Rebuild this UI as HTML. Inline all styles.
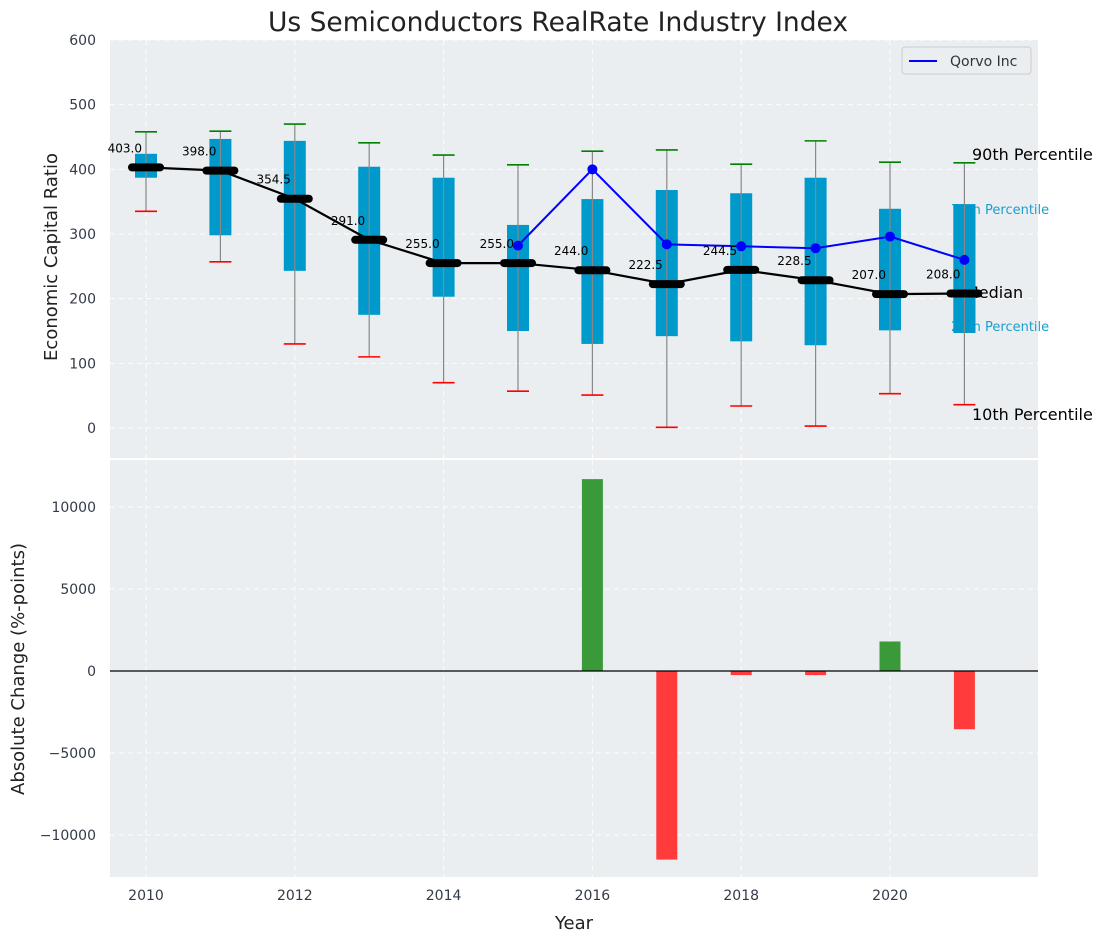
<!DOCTYPE html>
<html><head><meta charset="utf-8"><style>
body{margin:0;background:#fff;font-family:"Liberation Sans","DejaVu Sans",sans-serif}
</style></head><body>
<svg id="c" width="1107" height="942" xmlns="http://www.w3.org/2000/svg" font-family="DejaVu Sans, Liberation Sans, sans-serif"></svg>
<script>
const years=[2010,2011,2012,2013,2014,2015,2016,2017,2018,2019,2020,2021];
const p10=[335,257,130,110,70,57,51,1,34,3,53,36];
const p25=[387,298,243,175,203,150,130,142,134,128,151,147];
const median=[403,398,354.5,291,255,255,244,222.5,244.5,228.5,207,208];
const p75=[424,447,444,404,387,314,354,368,363,387,339,346];
const p90=[458,459,470,441,422,407,428,430,408,444,411,410];
const qorvoYears=[2015,2016,2017,2018,2019,2020,2021];
const qorvo=[282,400,284,281,278,296,260];
const changeYears=[2016,2017,2018,2019,2020,2021];
const changes=[11700,-11500,-250,-250,1800,-3550];
const yTicksTop=[0,100,200,300,400,500,600];
const yTicksBot=[-10000,-5000,0,5000,10000];
const xTicks=[2010,2012,2014,2016,2018,2020];

const svg=document.getElementById('c');const NS='http://www.w3.org/2000/svg';
function el(t,a,txt,parent){const e=document.createElementNS(NS,t);for(const k in a)e.setAttribute(k,a[k]);if(txt!==undefined)e.textContent=txt;(parent||svg).appendChild(e);return e;}
const X=v=>146+(v-2010)*74.4;
const Y1=v=>428-v*0.6467;
const Y2=v=>671-v*0.0164;
let e;
e=el('rect',{x:110,y:40,width:928,height:418,fill:'#eaeef0'});


e=el('rect',{x:110,y:460,width:928,height:417,fill:'#eaeef0'});


const grid=el('g',{stroke:'#fff','stroke-dasharray':'5,4','stroke-width':1,opacity:0.9});


xTicks.forEach(t=>{el('line',{x1:X(t),x2:X(t),y1:40,y2:458},undefined,grid);el('line',{x1:X(t),x2:X(t),y1:460,y2:877},undefined,grid);});
yTicksTop.forEach(t=>el('line',{x1:110,x2:1038,y1:Y1(t),y2:Y1(t)},undefined,grid));
yTicksBot.forEach(t=>el('line',{x1:110,x2:1038,y1:Y2(t),y2:Y2(t)},undefined,grid));
yTicksTop.forEach(t=>{e=el('text',{x:96,y:Y1(t)+5,'text-anchor':'end','font-size':14,fill:'#333a48'},String(t));

});
yTicksBot.forEach(t=>{e=el('text',{x:96,y:Y2(t)+5,'text-anchor':'end','font-size':14,fill:'#333a48'},t<0?'−'+(-t):String(t));

});
xTicks.forEach(t=>{e=el('text',{x:X(t),y:900,'text-anchor':'middle','font-size':14,fill:'#333a48'},String(t));

});
years.forEach((y,i)=>{const x=X(y);
 e=el('rect',{x:x-11,y:Y1(p75[i]),width:22,height:Y1(p25[i])-Y1(p75[i]),fill:'#0099cc'});
 
 
 e=el('line',{x1:x,x2:x,y1:Y1(p90[i]),y2:Y1(p10[i]),stroke:'#888',"stroke-width":1.2});
 
 
 e=el('line',{x1:x-11,x2:x+11,y1:Y1(p90[i]),y2:Y1(p90[i]),stroke:'green',"stroke-width":1.6});
 
 
 e=el('line',{x1:x-11,x2:x+11,y1:Y1(p10[i]),y2:Y1(p10[i]),stroke:'red',"stroke-width":1.6});
 
 
});
// right labels (drawn under final box)
[['90th Percentile',972,160,16,'#000'],['75th Percentile',951,214,13,'#1a9fd0'],['Median',965,298,16,'#000'],['25th Percentile',951,331,13,'#1a9fd0'],['10th Percentile',972,420,16,'#000']].forEach(l=>{
 e=el('text',{x:l[1],y:l[2],'font-size':l[3],fill:l[4]},l[0]);
 
 
});
const lx=X(2021);
e=el('rect',{x:lx-11,y:Y1(p75[11]),width:22,height:Y1(p25[11])-Y1(p75[11]),fill:'#0099cc'});


e=el('line',{x1:lx,x2:lx,y1:Y1(p75[11]),y2:Y1(p25[11]),stroke:'#888','stroke-width':1.2});


e=el('polyline',{points:years.map((y,i)=>X(y)+','+Y1(median[i])).join(' '),fill:'none',stroke:'#000','stroke-width':2.2});


years.forEach((y,i)=>{const x=X(y);
 e=el('line',{x1:x-14,x2:x+14,y1:Y1(median[i]),y2:Y1(median[i]),stroke:'#000','stroke-width':8,'stroke-linecap':'round'});
 
 
});
e=el('polyline',{points:qorvoYears.map((y,i)=>X(y)+','+Y1(qorvo[i])).join(' '),fill:'none',stroke:'blue','stroke-width':2});


qorvoYears.forEach((y,i)=>{e=el('circle',{cx:X(y),cy:Y1(qorvo[i]),r:5,fill:'blue'});

});
years.forEach((y,i)=>{const x=X(y);
 e=el('text',{x:x-4,y:Y1(median[i])-15,'text-anchor':'end','font-size':12,fill:'#000'},median[i].toFixed(1));
 
 
});
changeYears.forEach((y,i)=>{const v=changes[i];
 e=el('rect',{x:X(y)-10.5,y:Math.min(Y2(v),Y2(0)),width:21,height:Math.abs(Y2(v)-Y2(0)),fill:v>=0?'#3a9a3a':'#ff3b3b'});
 
 
});
e=el('line',{x1:110,x2:1038,y1:Y2(0),y2:Y2(0),stroke:'#000','stroke-width':1.2});


const lg=el('g',{});


el('rect',{x:902,y:47,width:129,height:27,rx:3,fill:'#eaeef0',stroke:'#ccc'},undefined,lg);
el('line',{x1:909,x2:937,y1:61,y2:61,stroke:'blue','stroke-width':2},undefined,lg);
el('text',{x:950,y:66,'font-size':14,fill:'#333'},'Qorvo Inc',lg);
e=el('text',{x:558,y:31,'text-anchor':'middle','font-size':26.5,fill:'#222'},'Us Semiconductors RealRate Industry Index');


e=el('text',{x:57,y:257,'text-anchor':'middle','font-size':18,fill:'#222',transform:'rotate(-90 57 257)'},'Economic Capital Ratio');


e=el('text',{x:24,y:669,'text-anchor':'middle','font-size':18,fill:'#222',transform:'rotate(-90 24 669)'},'Absolute Change (%-points)');


e=el('text',{x:574,y:929,'text-anchor':'middle','font-size':18,fill:'#222'},'Year');


</script>
</body></html>
